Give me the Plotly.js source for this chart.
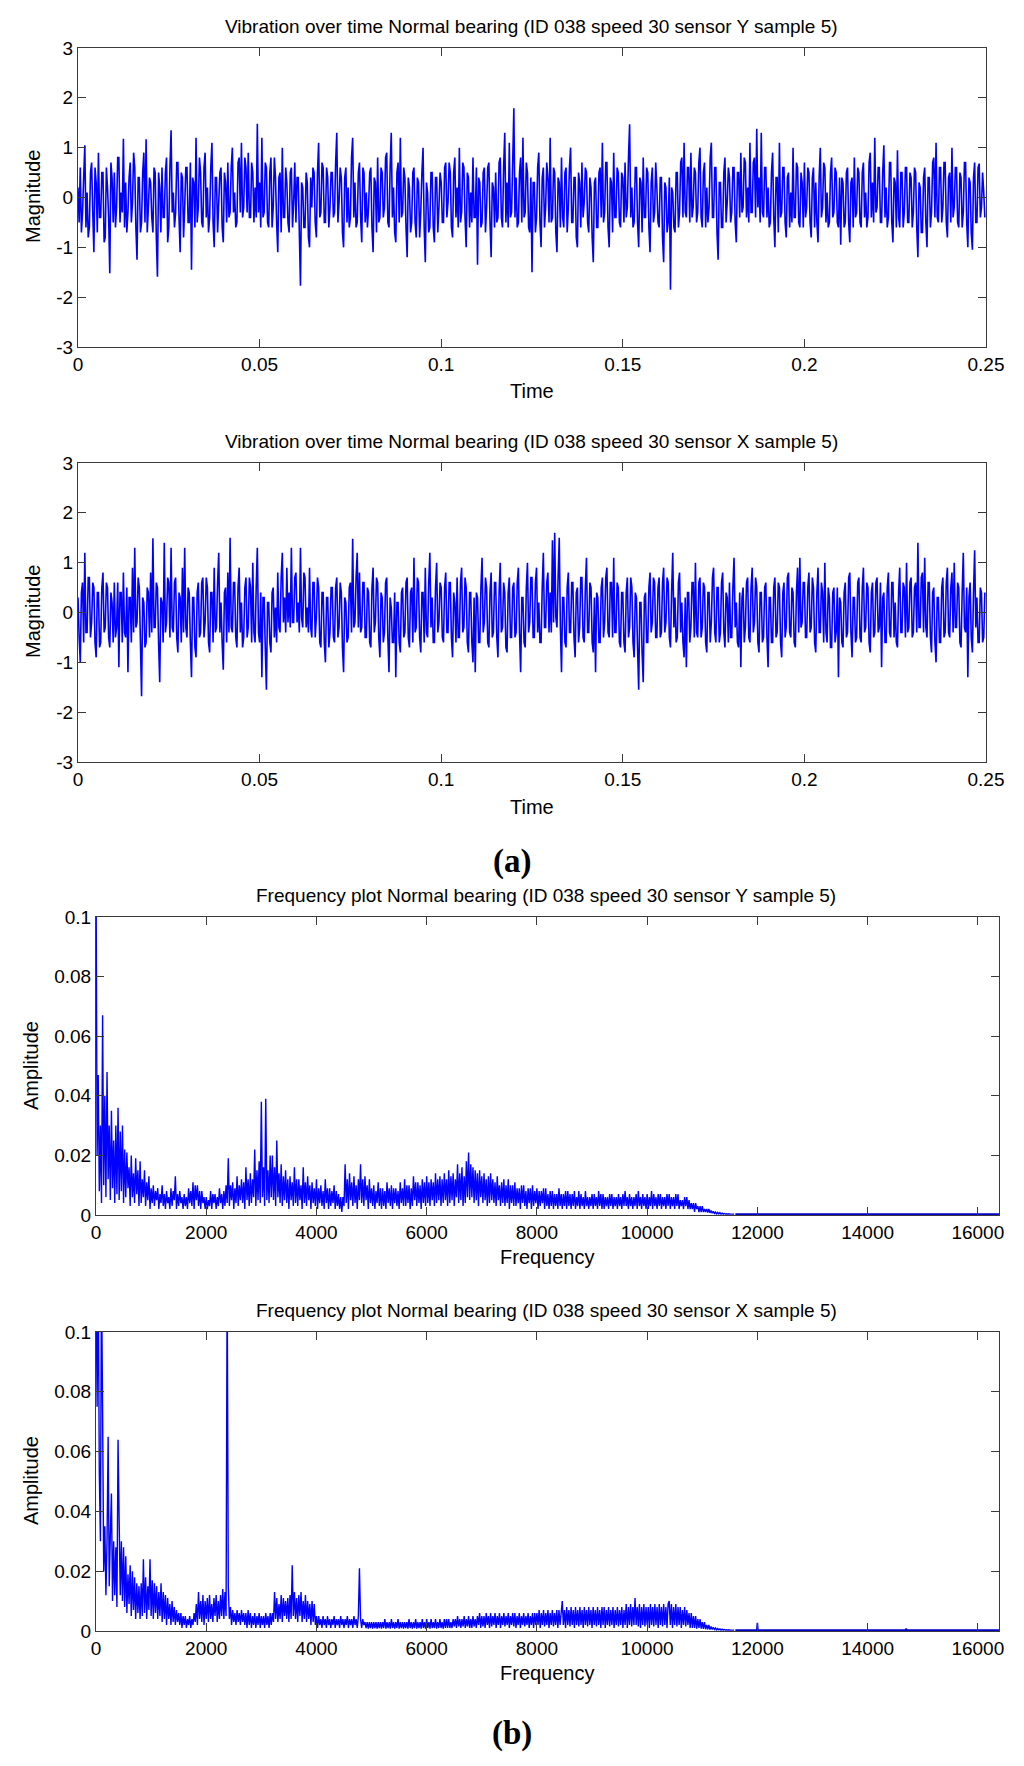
<!DOCTYPE html>
<html>
<head>
<meta charset="utf-8">
<script src="https://cdn.plot.ly/plotly-3.0.1.min.js"></script>
<style>html,body{margin:0;padding:0;background:#fff;}#chart{width:1024px;height:1766px;}</style>
</head>
<body>
<div id="chart"></div>
<script>
// ---- data ----
var dtTime = 0.0003125; // sampling step of the drawn series (s)
var timeY = [
.2,-.5,.6,-.7,-.3,.4,1.05,-.6,.1,-.8,-.6,.5,.7,-.3,-1.1,.6,.3,-.7,.9,-.4,-.4,.5,.5,-.9,-.8,.6,.2,-.4,-1.52,.7,.4,-.5,
.5,-.6,-.2,.8,.8,-.5,.1,-.3,1.18,-.6,.3,-.7,-.3,.4,.7,-.5,-.1,.9,.6,-.6,-1.25,.4,.4,-.7,-.5,.5,.9,-.5,1.17,-.7,-.2,.4,
.3,-.4,-.7,.6,.5,-.8,-1.59,.5,.2,-.7,.6,-.4,-.4,.5,.8,-.9,-.6,.6,1.35,-.3,.1,-.6,-.3,.7,.7,-.4,-1.1,.5,.4,-.8,-.2,.6,
.6,-.5,-.5,.7,-1.45,.4,.3,-.6,1.2,-.5,-.2,.8,.5,-.5,-.6,.6,.9,-.4,.2,-.7,-.4,.6,1.1,-.5,-1.0,.4,.4,-.7,-.1,.5,.6,-.6,
-.9,.5,.3,-.5,.7,-.4,-.3,.6,1.0,-.3,.1,-.6,-.5,.7,.8,-.3,1.1,-.4,-.2,.8,.6,-.3,.9,-.4,-.4,.7,.5,-.5,.2,-.4,1.48,-.3,
.3,-.6,1.2,-.4,-.3,.7,.6,-.5,-.6,.5,.8,-.6,-.2,.8,.4,-.5,-1.1,.4,.5,-.7,1.0,-.4,-.4,.6,.3,-.5,-.7,.5,.6,-.6,-.1,.7,
-.5,.4,.4,-.7,-1.77,.3,.2,-.6,-.6,.5,.3,-.8,-1.0,.4,-.2,.6,.5,-.5,-.8,.5,1.1,-.4,-.3,.7,.6,-.5,-.5,.6,.4,-.6,-.2,.5,
.5,-.4,-.3,.7,1.3,-.5,-.1,.6,.4,-.7,-1.0,.4,.6,-.5,.2,-.6,-.4,.8,1.2,-.4,.3,-.6,-.5,.5,.7,-.4,-.9,.6,.5,-.5,.1,-.6,
-.2,.5,.6,-.6,-1.1,.4,.3,-.7,.8,-.5,-.4,.6,.5,-.4,-.2,.8,.9,-.5,-.6,.6,1.3,-.4,.2,-.7,-.9,.5,.7,-.5,1.2,-.4,-.3,.6,
.4,-.6,-1.2,.4,.2,-.7,-.5,.5,.6,-.5,-.8,.4,.3,-.8,-.3,.5,1.0,-.6,-1.3,.3,.1,-.7,-.6,.5,.5,-.6,-.9,.4,.4,-.7,-.2,.5,
.3,-.5,-.5,.6,.7,-.4,-.1,.7,.5,-.6,-.8,.5,.8,-.4,.2,-.6,1.0,-.5,-.3,.7,.6,-.4,-1.0,.5,.4,-.6,.1,-.5,.8,-.4,-.4,.6,
-1.35,.4,.3,-.6,-.5,.5,.6,-.7,-.2,.6,.7,-.5,-1.2,.3,.2,-.6,.5,-.5,-.4,.7,.8,-.4,-.6,.6,1.3,-.5,.3,-.6,1.1,-.4,-.3,.7,
1.79,-.4,.4,-.6,-.5,.5,.8,-.5,1.2,-.4,-.3,.7,.5,-.6,-.7,.4,-1.5,.3,.3,-.7,-.4,.6,.9,-.5,-1.0,.4,.6,-.6,-.2,.7,.4,-.5,
1.2,-.5,-.4,.6,.5,-.7,-1.1,.4,.3,-.6,.8,-.4,-.6,.5,.6,-.7,-.2,.6,1.0,-.5,-.5,.4,.4,-.8,-1.0,.5,.3,-.6,.7,-.4,-.1,.6,
.5,-.5,-.7,.4,.2,-.8,-1.3,.3,.4,-.6,-.6,.5,.6,-.4,1.1,-.5,-.3,.7,.7,-.6,-1.0,.4,.3,-.7,.9,-.4,-.4,.6,.5,-.5,-.6,.5,
.4,-.5,.7,-.4,-.2,.8,1.47,-.4,.2,-.6,-.5,.6,.6,-.5,-1.0,.4,.3,-.7,.8,-.4,-.4,.6,.5,-.6,-1.1,.3,.6,-.5,-.3,.7,.2,-.5,
-.6,.4,.4,-.8,-1.3,.3,.2,-.7,-.5,.4,-1.85,.2,.1,-.6,-.7,.5,.5,-.6,-.3,.7,.8,-.4,1.1,-.3,-.4,.6,.6,-.5,.9,-.4,-.2,.6,
.5,-.5,-.3,.7,1.0,-.4,-.6,.5,.7,-.6,.2,-.5,-.2,.8,1.1,-.4,-.4,.6,.6,-.7,-1.25,.3,.3,-.6,-.6,.5,.8,-.5,-.1,.6,.4,-.5,
-.3,.6,.6,-.5,-.9,.5,.5,-.4,.9,-.3,-.2,.8,.7,-.4,.2,-.5,1.1,-.3,-.3,.7,.8,-.4,1.38,-.2,.4,-.5,1.3,-.3,-.4,.6,.6,-.4,
.2,-.6,-.5,.5,.9,-.4,-1.0,.4,.4,-.7,1.1,-.4,-.3,.6,.6,-.5,-.8,.4,.5,-.6,.1,-.5,1.0,-.4,-.4,.7,.6,-.5,-.6,.5,.3,-.6,
.7,-.4,-.2,.6,.5,-.5,-.8,.4,.6,-.6,.3,-.5,-.9,.4,1.0,-.4,-.2,.7,.6,-.5,.1,-.6,-.5,.5,.8,-.4,-.3,.6,.5,-.5,-.6,.4,
-.95,.4,.3,-.6,-.5,.5,.6,-.5,-.9,.3,.4,-.6,.8,-.4,-.3,.6,.5,-.5,-.6,.5,.7,-.4,.1,-.6,-.4,.7,.9,-.4,.3,-.5,1.2,-.3,
-.2,.6,.6,-.5,-.5,.5,1.05,-.4,.2,-.6,-.4,.7,.7,-.5,-.9,.4,.3,-.6,.95,-.4,-.6,.5,.5,-.6,-.3,.6,.6,-.5,-.5,.5,.4,-.6,
-.3,.6,.5,-.6,-1.2,.3,.2,-.7,-.7,.4,.6,-.5,-1.0,.4,.4,-.6,-.3,.7,.8,-.4,1.1,-.4,-.5,.6,.6,-.5,-.2,.7,.7,-.5,-.8,.4,
.5,-.5,1.0,-.4,-.2,.6,.6,-.5,-.6,.5,.4,-.6,-.3,.7,.7,-.5,-1.0,.4,.3,-.7,-1.05,.4,.7,-.5,-.5,.6,.68,-.4,-.2,.5,.1,-.4
];
var timeX = [
.3,-.5,-1.0,.4,.6,-.6,1.2,-.4,-.4,.7,.7,-.5,-.2,.6,.5,-.6,-.9,.4,.4,-.7,-.6,.5,.8,-.4,-.3,.6,.5,-.5,-.7,.4,.2,-.6,
.6,-.5,-.3,.6,-1.1,.4,.4,-.6,.8,-.4,-.5,.5,-1.2,.3,.3,-.6,.9,-.4,1.3,-.3,-.2,.7,.5,-.6,-1.68,.3,.2,-.7,-.6,.5,.4,-.5,
.8,-.4,1.49,-.3,-.3,.6,.5,-.6,-1.4,.3,.2,-.6,1.4,-.4,-.2,.7,.6,-.5,1.3,-.3,-.4,.6,.7,-.5,-.8,.4,.3,-.6,.9,-.4,1.3,-.3,
-.5,.5,.4,-.6,-1.3,.3,.3,-.7,-.9,.4,.6,-.5,-.4,.6,.7,-.5,-.2,.7,.5,-.6,-.8,.4,.4,-.6,.9,-.4,-.3,.6,1.2,-.4,.2,-.6,
-1.15,.4,.5,-.6,.8,-.4,1.5,-.3,-.4,.6,.6,-.5,-.7,.5,.9,-.4,.2,-.7,-.5,.5,.7,-.5,-.3,.7,.5,-.6,1.0,-.4,-.6,.5,1.3,-.4,
-.6,.4,-1.3,.3,.3,-.7,-1.55,.2,.2,-.6,-.8,.4,.5,-.5,.1,-.6,.8,-.3,-.4,.7,1.2,-.2,.3,-.4,.9,-.2,.4,-.3,1.3,-.2,-.2,.7,
.8,-.2,.2,-.4,1.3,-.1,-.3,.8,.7,-.3,.1,-.4,.9,-.3,-.5,.6,.6,-.5,-.1,.7,.5,-.6,-.7,.4,.4,-.6,-1.0,.3,.3,-.7,-.4,.5,
.5,-.5,-.6,.5,.7,-.5,-.3,.6,.4,-.7,-1.2,.3,.2,-.6,-.5,.5,.6,-.4,1.48,-.3,-.2,.7,1.2,-.3,.8,-.4,-.3,.6,.6,-.5,-.5,.5,
.4,-.6,-.7,.5,.9,-.4,-.2,.7,.6,-.5,-.9,.4,.3,-.6,-.4,.6,.7,-.5,-1.2,.3,.1,-.6,-.6,.4,-1.3,.2,.2,-.6,-.8,.4,.5,-.5,
-.4,.6,.7,-.5,-.7,.4,.5,-.6,1.1,-.4,-.3,.7,.6,-.5,-.8,.4,.4,-.6,.9,-.4,-.5,.6,1.2,-.3,.3,-.6,-.6,.5,1.0,-.4,-.2,.6,
.5,-.5,-.6,.5,.8,-.4,-.4,.6,.6,-.5,-.9,.4,.2,-.6,.7,-.5,-.5,.6,.9,-.4,-.3,.7,.5,-.6,-.8,.4,.4,-.6,-1.0,.3,-1.2,.4,
.3,-.6,-.6,.5,1.1,-.4,-.2,.7,.5,-.6,-.7,.4,.8,-.5,-.4,.6,.6,-.5,-.9,.4,1.0,-.4,-.3,.6,.4,-.7,-.8,.4,.7,-.5,-.5,.5,
.6,-.5,-.4,.6,.9,-.4,-1.2,.3,.3,-.6,-.7,.5,1.0,-.4,-.2,.7,.7,-.5,-.5,.6,.9,-.4,.2,-.6,-.6,.5,1.2,-.3,-.3,.6,.8,-.4,
.4,-.4,1.45,-.2,1.6,-.1,-.3,.7,1.5,-.3,-1.2,.3,.3,-.6,-.7,.5,.8,-.4,-.4,.6,.6,-.5,-.9,.4,.5,-.6,-.3,.7,.7,-.5,-.6,.5,
1.1,-.4,-.4,.6,.5,-.6,-.8,.3,-1.2,.4,.3,-.6,-.6,.5,.7,-.5,-.2,.7,.9,-.4,-.5,.6,.6,-.5,1.1,-.4,-.4,.6,.5,-.6,-.7,.4,
.4,-.6,-.8,.4,.7,-.5,-.3,.7,.5,-.6,-.9,.4,.3,-.7,-1.55,.2,.2,-.8,-1.4,.3,.4,-.6,-.6,.5,.8,-.4,-.2,.7,.6,-.5,-.5,.5,
.7,-.5,-.4,.6,.9,-.4,-.2,.7,.6,-.5,-.7,.4,1.2,-.3,.3,-.6,-.5,.6,.8,-.4,.2,-.6,-.9,.3,-1.1,.4,.4,-.6,-.3,.6,.6,-.5,
1.0,-.4,-.5,.6,.7,-.5,-.3,.6,.5,-.6,-.8,.4,.4,-.6,-.2,.7,.9,-.4,-.6,.5,.5,-.6,-.4,.6,.8,-.4,-.7,.4,.3,-.6,.6,-.5,
-.5,.5,1.1,-.3,.2,-.6,-.7,.4,-1.1,.3,.5,-.6,-.3,.6,.7,-.5,-.6,.5,.9,-.4,-.2,.7,.5,-.6,-.8,.4,.4,-.6,-.5,.5,.6,-.5,
-1.1,.3,.3,-.6,-.6,.5,.7,-.5,-.4,.6,.5,-.6,-.9,.4,.6,-.5,-.3,.7,.8,-.4,-.5,.5,.4,-.6,-.7,.4,.9,-.4,1.1,-.3,-.2,.6,
.6,-.5,-.5,.5,.8,-.4,-.3,.7,.5,-.6,-.8,.4,.9,-.4,-.4,.6,.4,-.6,1.0,-.4,-.6,.5,.3,-.7,-.7,.4,.5,-.6,-.4,.5,-1.3,.3,
.2,-.6,-.7,.4,.6,-.5,-.4,.7,.8,-.4,-.9,.3,.3,-.6,-.5,.6,.7,-.5,-.6,.5,.9,-.4,-.3,.6,.5,-.6,-.8,.4,.6,-.5,-.4,.6,
.7,-.4,-.3,.6,-1.1,.3,.4,-.6,-.6,.5,.8,-.4,-.5,.6,.6,-.5,.2,-.6,-.7,.4,.9,-.4,-.4,.6,.5,-.5,1.0,-.4,-.3,.6,.7,-.5,
-.4,.5,.6,-.4,1.4,-.3,-.3,.7,.8,-.4,1.1,-.3,-.5,.6,.6,-.5,-.8,.4,.5,-.6,-1.0,.3,.3,-.6,-.6,.5,.7,-.5,-.4,.6,.9,-.4,
-.5,.5,.8,-.4,1.0,-.3,-.3,.6,.5,-.6,-.7,.4,1.2,-.3,-.4,.5,-1.3,.3,.6,-.5,-.8,.4,1.25,-.3,.3,-.6,-.6,.5,.4,-.6,-.5,.4
];
var dfFreq = 20; // frequency step of the drawn spectra (Hz)
var freqY = [
.12,.02,.047,.008,.03,.004,.067,.01,.04,.006,.048,.012,.03,.005,.035,.009,.025,.004,.03,.007,
.036,.005,.028,.008,.03,.004,.022,.006,.021,.009,.016,.003,.02,.006,.014,.004,.019,.007,.015,.003,
.018,.004,.012,.006,.015,.003,.011,.005,.013,.002,.009,.004,.01,.003,.008,.005,.009,.002,.007,.004,
.01,.003,.007,.002,.008,.004,.006,.002,.009,.003,.008,.005,.013,.002,.007,.003,.008,.004,.006,.002,
.007,.003,.006,.002,.009,.004,.008,.003,.011,.002,.01,.005,.01,.003,.008,.002,.008,.004,.006,.002,
.006,.002,.005,.003,.008,.002,.007,.004,.007,.002,.006,.003,.009,.004,.007,.002,.008,.003,.01,.004,
.019,.003,.01,.005,.011,.002,.009,.004,.013,.003,.01,.005,.012,.004,.011,.002,.016,.005,.012,.003,
.014,.004,.012,.006,.022,.003,.015,.005,.018,.004,.038,.006,.016,.003,.039,.005,.015,.004,.02,.006,
.02,.005,.016,.003,.025,.006,.014,.004,.017,.003,.013,.005,.015,.004,.012,.002,.013,.005,.011,.003,
.016,.004,.012,.003,.012,.005,.01,.002,.016,.004,.011,.003,.013,.005,.01,.002,.011,.004,.009,.003,
.012,.002,.009,.004,.01,.003,.008,.002,.012,.004,.009,.002,.009,.003,.008,.004,.01,.002,.008,.003,
.007,.002,.006,.001,.006,.003,.017,.004,.012,.002,.014,.005,.011,.003,.013,.004,.01,.002,.012,.005,
.017,.004,.012,.003,.013,.005,.01,.002,.012,.004,.009,.003,.01,.002,.008,.004,.011,.003,.009,.002,
.009,.003,.008,.002,.011,.004,.009,.003,.01,.002,.009,.004,.009,.003,.008,.002,.011,.004,.009,.003,
.012,.003,.01,.004,.01,.002,.009,.003,.013,.005,.011,.003,.011,.004,.01,.002,.012,.004,.011,.003,
.013,.004,.011,.003,.012,.005,.011,.003,.014,.004,.012,.005,.013,.003,.012,.004,.014,.005,.012,.003,
.015,.004,.013,.005,.014,.003,.012,.006,.017,.004,.014,.005,.016,.003,.013,.004,.018,.006,.021,.005,
.017,.006,.016,.004,.015,.005,.014,.003,.015,.006,.013,.004,.014,.005,.012,.003,.013,.004,.014,.005,
.012,.004,.011,.003,.013,.005,.01,.003,.011,.004,.012,.003,.01,.004,.012,.002,.01,.004,.01,.003,
.011,.003,.009,.004,.009,.002,.01,.004,.01,.003,.008,.002,.009,.004,.009,.002,.01,.003,.008,.004,
.009,.002,.008,.003,.008,.004,.009,.002,.009,.003,.007,.002,.008,.003,.008,.002,.007,.003,.007,.002,
.009,.003,.007,.002,.007,.003,.008,.002,.008,.003,.007,.002,.007,.003,.008,.002,.006,.003,.008,.002,
.007,.003,.006,.002,.008,.003,.006,.002,.006,.003,.007,.002,.007,.003,.006,.002,.008,.003,.007,.002,
.007,.002,.006,.003,.006,.002,.007,.003,.007,.002,.006,.003,.006,.002,.007,.003,.006,.002,.007,.003,
.008,.003,.006,.002,.007,.003,.006,.002,.006,.003,.007,.002,.008,.003,.006,.002,.007,.003,.006,.002,
.007,.002,.006,.003,.008,.002,.007,.003,.006,.002,.007,.003,.007,.002,.006,.003,.006,.002,.007,.003,
.007,.002,.006,.003,.006,.002,.007,.003,.007,.002,.005,.003,.005,.002,.006,.003,.006,.002,.005,.002,
.004,.002,.004,.001,.004,.002,.003,.001,.003,.001,.003,.001,.002,.001,.002,.0008,.002,.0007,.0015,.0006,
.0012,.0005,.001,.0004,.0009,.0004,.0008,.0003,.0006,.0003,.0005,.0003,.0004,.0003,.0004,.0003,.0003,.0003,.0003,.0003
];
var freqX = [
.12,.075,.12,.053,.03,.12,.072,.02,.035,.012,.03,.065,.015,.032,.046,.01,.03,.012,.028,.008,
.064,.037,.012,.03,.01,.028,.008,.025,.006,.019,.009,.022,.005,.02,.007,.018,.004,.016,.006,.015,
.004,.016,.005,.024,.006,.018,.004,.015,.007,.024,.005,.017,.004,.016,.006,.015,.004,.013,.005,.016,
.003,.013,.004,.012,.002,.011,.004,.009,.002,.01,.003,.008,.002,.007,.003,.006,.002,.006,.001,.005,
.002,.005,.001,.004,.002,.005,.001,.004,.002,.006,.003,.009,.002,.013,.004,.01,.003,.012,.002,.01,
.004,.011,.003,.012,.004,.009,.003,.011,.005,.012,.003,.01,.004,.012,.005,.014,.004,.013,.005,.12,
.015,.004,.008,.002,.007,.003,.006,.002,.007,.003,.006,.002,.007,.003,.006,.002,.006,.001,.007,.002,
.006,.001,.005,.002,.006,.001,.005,.002,.006,.001,.005,.002,.005,.001,.006,.002,.005,.001,.006,.002,
.006,.003,.013,.004,.011,.003,.009,.004,.012,.003,.011,.005,.01,.004,.011,.003,.012,.004,.022,.005,
.013,.004,.011,.003,.012,.005,.013,.003,.01,.004,.012,.003,.01,.004,.009,.002,.01,.003,.009,.002,
.005,.001,.005,.002,.004,.001,.005,.002,.004,.001,.005,.002,.004,.001,.004,.002,.005,.001,.004,.002,
.004,.001,.005,.002,.004,.001,.004,.002,.005,.001,.004,.002,.004,.001,.005,.002,.004,.001,.005,.021,
.004,.001,.004,.002,.003,.001,.003,.0008,.003,.001,.003,.0008,.003,.001,.003,.0008,.003,.001,.003,.0008,
.003,.001,.004,.0008,.003,.001,.003,.0008,.004,.001,.003,.0008,.003,.001,.004,.0008,.003,.001,.003,.0008,
.003,.001,.003,.0008,.004,.001,.003,.0008,.003,.001,.004,.0008,.003,.001,.003,.0008,.004,.001,.003,.0008,
.004,.001,.003,.0008,.004,.001,.003,.001,.004,.0008,.003,.001,.004,.001,.003,.0008,.004,.001,.004,.001,
.004,.001,.003,.001,.004,.0015,.004,.001,.005,.0015,.004,.001,.004,.0015,.005,.001,.004,.0015,.005,.001,
.004,.001,.005,.0015,.004,.001,.005,.002,.006,.001,.005,.0015,.005,.001,.006,.002,.005,.001,.006,.0015,
.005,.002,.006,.001,.005,.002,.006,.001,.005,.002,.006,.0015,.005,.002,.006,.001,.005,.002,.006,.0015,
.006,.001,.005,.002,.006,.001,.005,.002,.006,.0015,.005,.002,.006,.001,.005,.002,.006,.001,.006,.002,
.006,.002,.007,.001,.006,.002,.007,.0015,.006,.002,.007,.001,.006,.002,.007,.0015,.006,.002,.007,.001,
.007,.002,.006,.01,.002,.007,.001,.008,.002,.007,.0015,.008,.002,.007,.001,.008,.002,.007,.0015,.008,
.002,.007,.001,.008,.002,.007,.0015,.008,.002,.007,.001,.008,.002,.007,.0015,.008,.002,.007,.001,.008,
.002,.008,.001,.007,.002,.008,.0015,.007,.002,.008,.001,.007,.002,.008,.0015,.007,.002,.008,.001,.007,
.002,.009,.001,.008,.002,.009,.0015,.008,.002,.011,.002,.008,.0015,.009,.001,.008,.002,.009,.0015,.008,
.002,.008,.001,.009,.002,.008,.0015,.009,.002,.008,.001,.009,.002,.008,.0015,.009,.002,.008,.001,.009,
.01,.002,.009,.001,.008,.002,.009,.0015,.008,.002,.008,.001,.007,.002,.008,.0015,.007,.002,.006,.001,
.006,.001,.005,.001,.005,.0008,.004,.001,.004,.0008,.003,.0007,.003,.0006,.002,.0006,.002,.0005,.0015,.0005,
.0012,.0005,.001,.0004,.0008,.0004,.0007,.0003,.0006,.0003,.0005,.0003,.0004,.0003,.0004,.0003,.0003,.0003,.0003,.0003
];
var tailFreqY = [11600, 16384];
var tailAmpY = [0.0003, 0.0003];
var tailFreqX = [11600, 11990, 12000, 12010, 14690, 14700, 14710, 16384];
var tailAmpX = [0.0003, 0.0003, 0.0027, 0.0003, 0.0003, 0.0008, 0.0003, 0.0003];

var timeTicks = [0, 0.05, 0.1, 0.15, 0.2, 0.25];
var timeTickLabels = ['0', '0.05', '0.1', '0.15', '0.2', '0.25'];
var magTicks = [-3, -2, -1, 0, 1, 2, 3];
var magTickLabels = ['-3', '-2', '-1', '0', '1', '2', '3'];
var freqTicks = [0, 2000, 4000, 6000, 8000, 10000, 12000, 14000, 16000];
var freqTickLabels = ['0', '2000', '4000', '6000', '8000', '10000', '12000', '14000', '16000'];
var ampTicks = [0, 0.02, 0.04, 0.06, 0.08, 0.1];
var ampTickLabels = ['0', '0.02', '0.04', '0.06', '0.08', '0.1'];

var titles = [
  'Vibration over time Normal bearing (ID 038 speed 30 sensor Y sample 5)',
  'Vibration over time Normal bearing (ID 038 speed 30 sensor X sample 5)',
  'Frequency plot Normal bearing (ID 038 speed 30 sensor Y sample 5)',
  'Frequency plot Normal bearing (ID 038 speed 30 sensor X sample 5)'
];

// ---- drawing ----
var W = 1024, H = 1766;
var FONT = 'Liberation Sans, Arial, Helvetica, sans-serif';
var BLUE = '#0000ff';
function px(x) { return x / W; }
function py(y) { return 1 - y / H; }

var timeLine = {color: BLUE, width: 1.6, simplify: false};
var freqLine = {color: BLUE, width: 1.4, simplify: false};
var tailLine = {color: '#0000cc', width: 1.6, simplify: false};
var traces = [
  {y: timeY, x0: 0, dx: dtTime, xaxis: 'x', yaxis: 'y', type: 'scatter', mode: 'lines', line: timeLine},
  {y: timeX, x0: 0, dx: dtTime, xaxis: 'x2', yaxis: 'y2', type: 'scatter', mode: 'lines', line: timeLine},
  {y: freqY, x0: 0, dx: dfFreq, xaxis: 'x3', yaxis: 'y3', type: 'scatter', mode: 'lines', line: freqLine},
  {x: tailFreqY, y: tailAmpY, xaxis: 'x3', yaxis: 'y3', type: 'scatter', mode: 'lines', line: tailLine},
  {y: freqX, x0: 0, dx: dfFreq, xaxis: 'x4', yaxis: 'y4', type: 'scatter', mode: 'lines', line: freqLine},
  {x: tailFreqX, y: tailAmpX, xaxis: 'x4', yaxis: 'y4', type: 'scatter', mode: 'lines', line: tailLine}
];

function axisBase(extra) {
  var a = {
    showline: true, linecolor: '#3a3a3a', linewidth: 1, mirror: 'ticks',
    ticks: 'inside', ticklen: 8, tickwidth: 1, tickcolor: '#3a3a3a',
    showgrid: false, zeroline: false, fixedrange: true,
    tickfont: {family: FONT, size: 19, color: '#000'}, tickmode: 'array'
  };
  for (var k in extra) a[k] = extra[k];
  return a;
}

var boxes = [
  {l: 78, r: 986, t: 48, b: 347},
  {l: 78, r: 986, t: 463, b: 762},
  {l: 96, r: 999, t: 917, b: 1215},
  {l: 96, r: 999, t: 1332, b: 1631}
];

var layout = {
  width: W, height: H, margin: {l: 0, r: 0, t: 0, b: 0},
  paper_bgcolor: '#fff', plot_bgcolor: '#fff', showlegend: false,
  xaxis: axisBase({domain: [px(boxes[0].l), px(boxes[0].r)], range: [0, 0.25], tickvals: timeTicks, ticktext: timeTickLabels, anchor: 'y'}),
  yaxis: axisBase({domain: [py(boxes[0].b), py(boxes[0].t)], range: [-3, 3], tickvals: magTicks, ticktext: magTickLabels, anchor: 'x'}),
  xaxis2: axisBase({domain: [px(boxes[1].l), px(boxes[1].r)], range: [0, 0.25], tickvals: timeTicks, ticktext: timeTickLabels, anchor: 'y2'}),
  yaxis2: axisBase({domain: [py(boxes[1].b), py(boxes[1].t)], range: [-3, 3], tickvals: magTicks, ticktext: magTickLabels, anchor: 'x2'}),
  xaxis3: axisBase({domain: [px(boxes[2].l), px(boxes[2].r)], range: [0, 16384], tickvals: freqTicks, ticktext: freqTickLabels, anchor: 'y3'}),
  yaxis3: axisBase({domain: [py(boxes[2].b), py(boxes[2].t)], range: [0, 0.1], tickvals: ampTicks, ticktext: ampTickLabels, anchor: 'x3'}),
  xaxis4: axisBase({domain: [px(boxes[3].l), px(boxes[3].r)], range: [0, 16384], tickvals: freqTicks, ticktext: freqTickLabels, anchor: 'y4'}),
  yaxis4: axisBase({domain: [py(boxes[3].b), py(boxes[3].t)], range: [0, 0.1], tickvals: ampTicks, ticktext: ampTickLabels, anchor: 'x4'}),
  annotations: []
};

function label(text, x, y, size, extra) {
  var a = {text: text, xref: 'paper', yref: 'paper', x: px(x), y: py(y), xanchor: 'center', yanchor: 'middle',
    showarrow: false, font: {family: FONT, size: size, color: '#000'}};
  for (var k in extra) a[k] = extra[k];
  layout.annotations.push(a);
}

// subplot titles
label(titles[0], 531, 27, 19);
label(titles[1], 531, 442, 19);
label(titles[2], 546, 895, 19);
label(titles[3], 546, 1310, 19);
// axis titles
label('Time', 532, 391, 20);
label('Time', 532, 807, 20);
label('Frequency', 547, 1257, 20);
label('Frequency', 547, 1673, 20);
label('Magnitude', 33, 197, 20, {textangle: -90});
label('Magnitude', 33, 612, 20, {textangle: -90});
label('Amplitude', 31, 1066, 20, {textangle: -90});
label('Amplitude', 31, 1481, 20, {textangle: -90});
// panel letters
label('<b>(a)</b>', 512, 862, 33, {font: {family: 'Liberation Serif, Times New Roman, serif', size: 33, color: '#000'}});
label('<b>(b)</b>', 512, 1733, 33, {font: {family: 'Liberation Serif, Times New Roman, serif', size: 33, color: '#000'}});

Plotly.newPlot('chart', traces, layout, {displayModeBar: false, staticPlot: true});
</script>
</body>
</html>
